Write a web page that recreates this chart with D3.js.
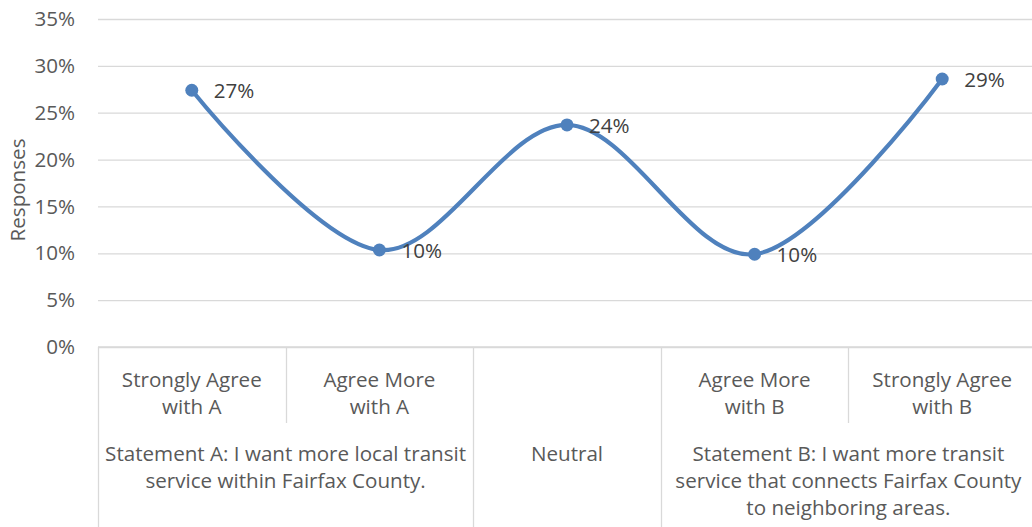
<!DOCTYPE html>
<html>
<head>
<meta charset="utf-8">
<script src="https://cdn.jsdelivr.net/npm/d3@7"></script>
<style>
  html, body { margin: 0; padding: 0; background: #fff; }
  svg { display: block; font-family: "Open Sans", "Noto Sans", sans-serif; }
</style>
</head>
<body>
<svg id="chart" width="1032" height="527"></svg>
<script>
// Response categories (inner axis level), one entry per point
const categories = [
  ["Strongly Agree", "with A"],
  ["Agree More", "with A"],
  [""],
  ["Agree More", "with B"],
  ["Strongly Agree", "with B"]
];
// Share of responses for each category
const responses = [0.274, 0.1035, 0.237, 0.099, 0.286];
// Outer axis groups and how many categories each spans
const groupLabels = [
  ["Statement A: I want more local transit", "service within Fairfax County."],
  ["Neutral"],
  ["Statement B: I want more transit", "service that connects Fairfax County", "to neighboring areas."]
];
const groupSpans = [2, 1, 2];
const yTicks = [0, 0.05, 0.10, 0.15, 0.20, 0.25, 0.30, 0.35];
const yTitle = "Responses";

(function draw() {
  const svg = d3.select("#chart");
  const W = 1032, H = 527;
  const plotLeft = 98, plotRight = 1036, plotTop = 19, plotBottom = 347;
  const gridColor = "#d9d9d9";
  const textColor = "#595959";
  const lineColor = "#4f81bd";
  const fs = 20.6;

  const x = d3.scaleBand().domain(d3.range(categories.length)).range([plotLeft, plotRight]).padding(0);
  const y = d3.scaleLinear().domain([0, 0.35]).range([plotBottom, plotTop]);
  const pct = d3.format(".0%");

  // Horizontal gridlines and value axis labels
  const yAxis = d3.axisLeft(y).tickValues(yTicks).tickFormat(pct)
    .tickSize(-(plotRight - plotLeft)).tickPadding(23);
  const gy = svg.append("g").attr("transform", `translate(${plotLeft},0)`).call(yAxis);
  gy.select(".domain").remove();
  gy.selectAll(".tick line").attr("stroke", gridColor).attr("stroke-width", 1.3);
  gy.selectAll(".tick text")
    .attr("fill", textColor).attr("font-size", fs)
    .attr("font-family", "Open Sans, sans-serif");

  svg.append("text")
    .attr("transform", `translate(25,${(plotTop + plotBottom) / 2 + 7}) rotate(-90)`)
    .attr("text-anchor", "middle")
    .attr("fill", textColor).attr("font-size", fs)
    .text(yTitle);

  // Multi-level category axis
  const axisG = svg.append("g");
  const innerBottom = 423;
  axisG.append("line")
    .attr("x1", plotLeft).attr("x2", plotRight).attr("y1", plotBottom).attr("y2", plotBottom)
    .attr("stroke", gridColor).attr("stroke-width", 1.3);

  // Boundaries: full-height at group edges, short between categories inside a group
  const groupEdges = [0];
  groupSpans.forEach(s => groupEdges.push(groupEdges[groupEdges.length - 1] + s));
  for (let i = 0; i <= categories.length; i++) {
    const xx = i < categories.length ? x(i) : plotRight;
    const full = groupEdges.includes(i);
    axisG.append("line")
      .attr("x1", Math.round(xx) + 0.5).attr("x2", Math.round(xx) + 0.5)
      .attr("y1", plotBottom).attr("y2", full ? H : innerBottom)
      .attr("stroke", gridColor).attr("stroke-width", 1.3);
  }

  // Inner category labels
  categories.forEach((lines, i) => {
    const t = axisG.append("text")
      .attr("text-anchor", "middle").attr("fill", textColor).attr("font-size", fs);
    lines.forEach((ln, k) => {
      t.append("tspan").attr("x", x(i) + x.bandwidth() / 2).attr("y", 387 + k * 27).text(ln);
    });
  });

  // Outer group labels
  groupLabels.forEach((lines, g) => {
    const x0 = x(groupEdges[g]);
    const x1 = groupEdges[g + 1] < categories.length ? x(groupEdges[g + 1]) : plotRight;
    const t = axisG.append("text")
      .attr("text-anchor", "middle").attr("fill", textColor).attr("font-size", fs);
    lines.forEach((ln, k) => {
      t.append("tspan").attr("x", (x0 + x1) / 2).attr("y", 461 + k * 27).text(ln);
    });
  });

  // Smoothed response line with markers
  const px = i => x(i) + x.bandwidth() / 2;
  const line = d3.line().x((d, i) => px(i)).y(d => y(d)).curve(d3.curveCardinal.tension(0));
  svg.append("path")
    .datum(responses)
    .attr("d", line)
    .attr("fill", "none").attr("stroke", lineColor).attr("stroke-width", 4.2)
    .attr("stroke-linecap", "round");

  svg.selectAll("circle.pt").data(responses).join("circle")
    .attr("class", "pt")
    .attr("cx", (d, i) => px(i)).attr("cy", d => y(d)).attr("r", 6.5)
    .attr("fill", lineColor);

  // Value labels
  svg.selectAll("text.val").data(responses).join("text")
    .attr("class", "val")
    .attr("x", (d, i) => px(i) + 22).attr("y", d => y(d) + 8)
    .attr("fill", "#404040").attr("font-size", fs)
    .text(d => pct(d));
})();
</script>
</body>
</html>
